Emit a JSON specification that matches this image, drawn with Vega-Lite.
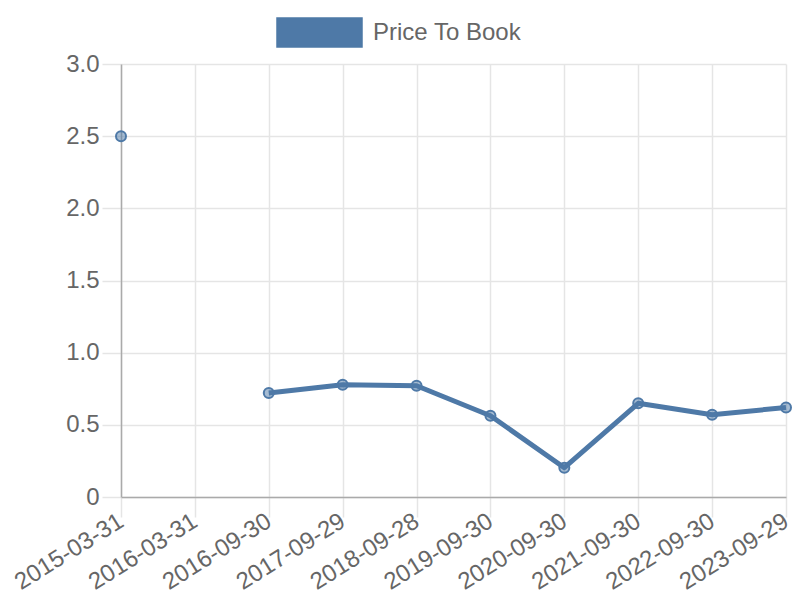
{
  "$schema": "https://vega.github.io/schema/vega-lite/v6.json",
  "width": 665,
  "height": 433,
  "autosize": {"type": "none"},
  "padding": {"left": 121, "top": 64, "right": 14, "bottom": 103},
  "background": "white",
  "config": {
    "view": {"stroke": null},
    "font": "Liberation Sans",
    "axis": {
      "labelFont": "Liberation Sans",
      "labelFontSize": 24,
      "labelColor": "#666666",
      "gridColor": "#e5e5e5",
      "gridWidth": 1.5,
      "tickColor": "#e5e5e5",
      "tickWidth": 1.5,
      "domainColor": "#aaaaaa",
      "domainWidth": 1.5,
      "title": null
    }
  },
  "data": {
    "values": [
      {"date": "2015-03-31", "value": 2.5, "series": "Price To Book"},
      {"date": "2016-03-31", "value": null, "series": "Price To Book"},
      {"date": "2016-09-30", "value": 0.72, "series": "Price To Book"},
      {"date": "2017-09-29", "value": 0.778, "series": "Price To Book"},
      {"date": "2018-09-28", "value": 0.771, "series": "Price To Book"},
      {"date": "2019-09-30", "value": 0.563, "series": "Price To Book"},
      {"date": "2020-09-30", "value": 0.203, "series": "Price To Book"},
      {"date": "2021-09-30", "value": 0.649, "series": "Price To Book"},
      {"date": "2022-09-30", "value": 0.57, "series": "Price To Book"},
      {"date": "2023-09-29", "value": 0.62, "series": "Price To Book"}
    ]
  },
  "encoding": {
    "x": {
      "field": "date",
      "type": "ordinal",
      "sort": null,
      "scale": {"type": "point", "padding": 0},
      "axis": {
        "grid": true,
        "tickSize": 20,
        "labelAngle": -32,
        "labelAlign": "right",
        "labelBaseline": "middle",
        "labelPadding": 2
      }
    },
    "y": {
      "field": "value",
      "type": "quantitative",
      "scale": {"domain": [0, 3], "nice": false},
      "axis": {
        "values": [0, 0.5, 1, 1.5, 2, 2.5, 3],
        "grid": true,
        "tickSize": 19,
        "labelPadding": 3,
        "labelExpr": "datum.value == 0 ? '0' : format(datum.value, '.1f')"
      }
    }
  },
  "layer": [
    {
      "mark": {"type": "line", "strokeWidth": 5, "strokeJoin": "round"},
      "encoding": {
        "color": {
          "field": "series",
          "type": "nominal",
          "scale": {"range": ["#4e79a7"]},
          "legend": {
            "title": null,
            "orient": "none",
            "legendX": 155,
            "legendY": -75,
            "symbolType": "M-1,-0.34L1,-0.34L1,0.34L-1,0.34Z",
            "symbolSize": 7225,
            "labelFontSize": 24,
            "labelFont": "Liberation Sans",
            "labelColor": "#666666",
            "labelOffset": 10,
            "padding": 0,
            "encode": {
              "symbols": {
                "update": {
                  "fill": {"value": "#4e79a7"},
                  "stroke": {"value": "transparent"},
                  "opacity": {"value": 1}
                }
              }
            }
          }
        }
      }
    },
    {
      "mark": {
        "type": "point",
        "filled": false,
        "fill": "#4e79a7",
        "fillOpacity": 0.5,
        "stroke": "#4e79a7",
        "strokeWidth": 2,
        "opacity": 1,
        "size": 100
      }
    }
  ]
}
